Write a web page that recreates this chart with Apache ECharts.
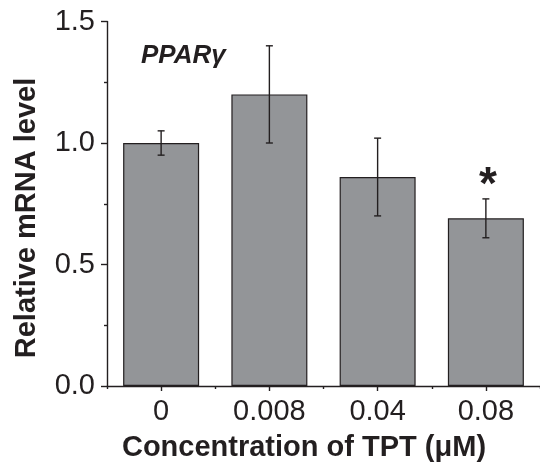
<!DOCTYPE html>
<html>
<head>
<meta charset="utf-8">
<script src="https://cdn.jsdelivr.net/npm/echarts@6/dist/echarts.min.js"></script>
<style>html,body{margin:0;padding:0;background:#fff}#c{width:540px;height:466px}</style>
</head>
<body>
<div id="c"></div>
<script>
var categories = ['0', '0.008', '0.04', '0.08'];
var values = [1.00, 1.20, 0.86, 0.69];
var errors = [0.05, 0.20, 0.16, 0.08];
var significance = ['', '', '', '*'];
var yTicks = [0, 0.5, 1.0, 1.5];

var ink = '#231f20';
var font = '"Liberation Sans", Arial, Helvetica, sans-serif';
var chart = echarts.init(document.getElementById('c'), null, {renderer: 'canvas'});

var errData = values.map(function (v, i) { return [i, v - errors[i], v + errors[i], significance[i]]; });

chart.setOption({
  animation: false,
  grid: {left: 107, right: -1, top: 21.5, bottom: 80},
  xAxis: [{
    type: 'category', data: categories, boundaryGap: true,
    axisLine: {lineStyle: {color: ink, width: 1.4}},
    axisTick: {show: true, alignWithLabel: true, length: 5, lineStyle: {color: ink, width: 1.4}},
    axisLabel: {color: ink, fontFamily: font, fontSize: 29, margin: 11},
    splitLine: {show: false}
  }, {
    type: 'category', data: categories, boundaryGap: true, position: 'bottom',
    axisLine: {show: false},
    axisTick: {show: true, alignWithLabel: false, length: 3, lineStyle: {color: ink, width: 1.4}},
    axisLabel: {show: false}, splitLine: {show: false}
  }],
  yAxis: {
    type: 'value', min: yTicks[0], max: yTicks[yTicks.length - 1], interval: 0.5,
    axisLine: {show: true, lineStyle: {color: ink, width: 1.4}},
    axisTick: {show: true, length: 6, lineStyle: {color: ink, width: 1.4}},
    minorTick: {show: true, splitNumber: 2, length: 3, lineStyle: {color: ink, width: 1.4}},
    axisLabel: {color: ink, fontFamily: font, fontSize: 29, margin: 12,
      formatter: function (v) { return v.toFixed(1); }},
    splitLine: {show: false}
  },
  series: [{
    type: 'bar', data: values, barWidth: 76,
    itemStyle: {color: '#939598', borderColor: ink, borderWidth: 1.2}
  }, {
    type: 'custom', data: errData, z: 10,
    renderItem: function (params, api) {
      var x = api.value(0);
      var lo = api.coord([x, api.value(1)]);
      var hi = api.coord([x, api.value(2)]);
      var hw = 3.5;
      var st = {stroke: ink, lineWidth: 1.4};
      var children = [
        {type: 'line', shape: {x1: lo[0], y1: lo[1], x2: hi[0], y2: hi[1]}, style: st},
        {type: 'line', shape: {x1: lo[0] - hw, y1: lo[1], x2: lo[0] + hw, y2: lo[1]}, style: st},
        {type: 'line', shape: {x1: hi[0] - hw, y1: hi[1], x2: hi[0] + hw, y2: hi[1]}, style: st}
      ];
      var sig = api.value(3);
      if (sig && sig !== '-') {
        children.push({type: 'text', x: hi[0] + 2, y: hi[1] + 10,
          style: {text: sig, fill: ink, font: 'bold 46px ' + font, textAlign: 'center', textVerticalAlign: 'bottom'}});
      }
      return {type: 'group', children: children};
    }
  }],
  graphic: [
    {type: 'text', left: 141, top: 43,
     style: {text: 'PPARγ', fill: ink, font: 'italic bold 26px ' + font}},
    {type: 'text', x: 304, y: 448,
     style: {text: 'Concentration of TPT (μM)', fill: ink, font: 'bold 29px ' + font, textAlign: 'center', textVerticalAlign: 'middle'}},
    {type: 'text', x: 27, y: 218, rotation: Math.PI / 2,
     style: {text: 'Relative mRNA level', fill: ink, font: 'bold 29px ' + font, textAlign: 'center', textVerticalAlign: 'middle'}}
  ]
});
</script>
</body>
</html>
